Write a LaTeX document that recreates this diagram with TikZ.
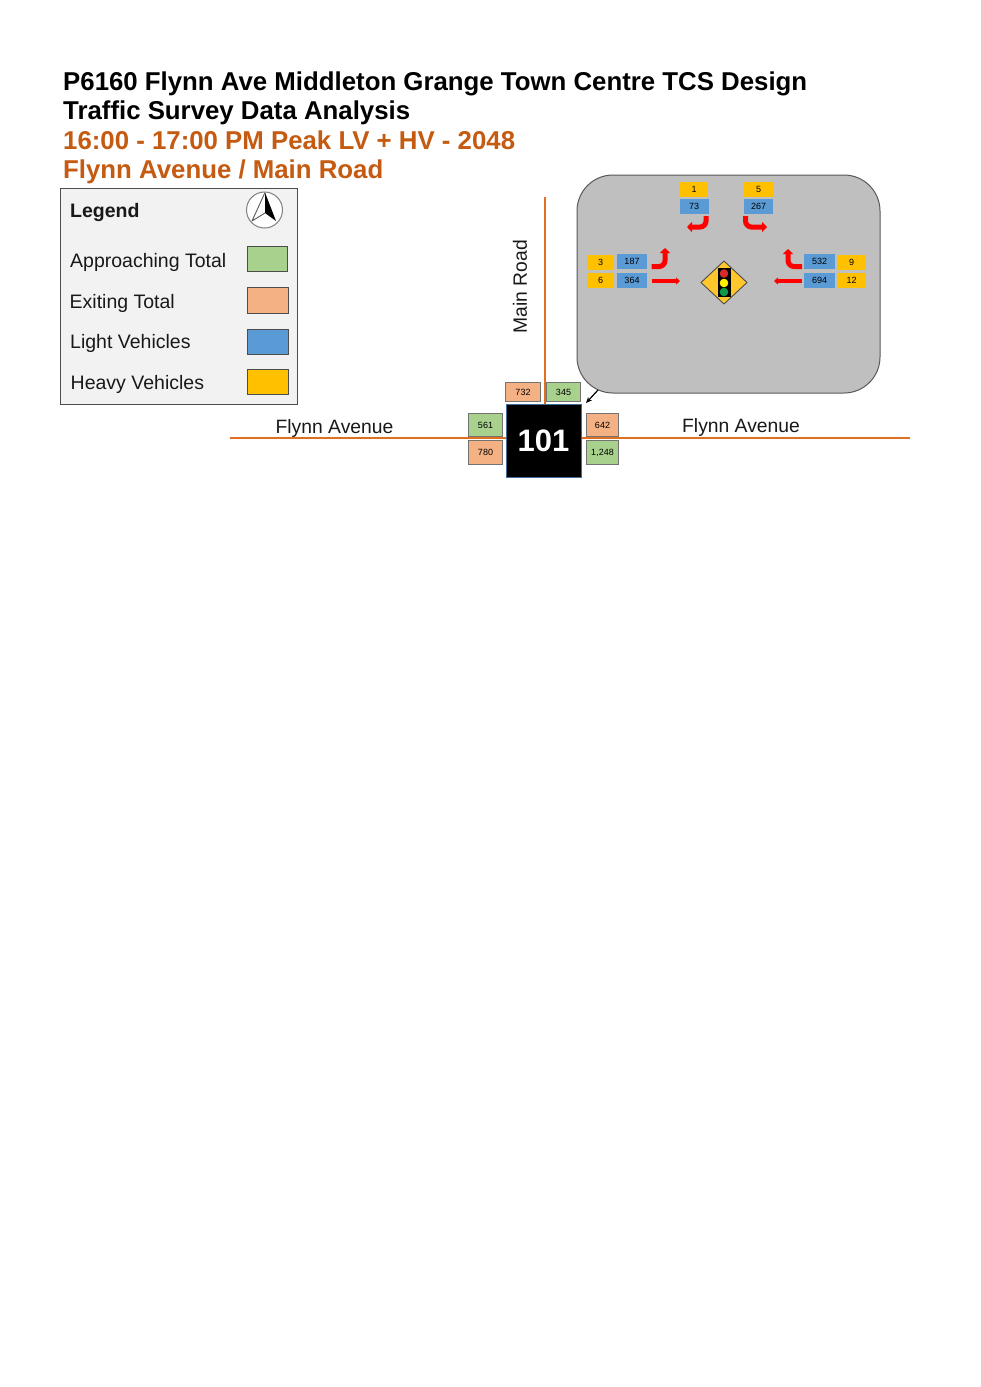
\documentclass[tikz,border=0pt]{standalone}
\usepackage{fontspec}
\setmainfont{Liberation Sans}
\usetikzlibrary{arrows.meta}

\definecolor{apprgreen}{HTML}{A9D18E}
\definecolor{exitorange}{HTML}{F4B183}
\definecolor{lightblue}{HTML}{5B9BD5}
\definecolor{heavyyellow}{HTML}{FFC000}
\definecolor{roadorange}{HTML}{E0701F}
\definecolor{titleorange}{HTML}{C55A11}
\definecolor{signyellow}{HTML}{FFC72C}
\definecolor{lampred}{HTML}{D42A2A}
\definecolor{lampyellow}{HTML}{FFF000}
\definecolor{lampgreen}{HTML}{0E9A48}

\tikzset{
  titletext/.style={anchor=base west,inner sep=0pt,font=\fontsize{25.8}{30}\selectfont\bfseries},
  legendtext/.style={anchor=base west,inner sep=0pt,text=black!90,font=\fontsize{19.5}{22}\selectfont},
  roadtext/.style={inner sep=0pt,text=black!90,font=\fontsize{19.3}{22}\selectfont},
  swatch/.style={draw=black!70,line width=1pt,minimum width=40.5pt,minimum height=25.5pt,inner sep=0pt},
  totalbox/.style={draw=black!55,line width=1pt,inner sep=0pt,minimum height=23.5pt,font=\fontsize{9}{10}\selectfont},
  countbox/.style={inner sep=0pt,minimum height=15pt,font=\fontsize{9}{10}\selectfont},
  road/.style={draw=roadorange,line width=1.5pt},
  move/.style={draw=red,line width=5pt,rounded corners=6pt,-{Triangle[length=5pt,width=10pt]}},
  straightmove/.style={move,rounded corners=0pt,line width=3.5pt,-{Triangle[length=4pt,width=7pt]}},
}

\begin{document}
\begin{tikzpicture}[x=1pt,y=-1pt]
  \useasboundingbox[fill=white] (0,0) rectangle (981,1387);

  % headings
  \node[titletext] (t1) at (63,90) {P6160 Flynn Ave Middleton Grange Town Centre TCS Design};
  \node[titletext] (t2) at (63,119) {Traffic Survey Data Analysis};
  \node[titletext,text=titleorange] (t3) at (63,149) {16:00 - 17:00 PM Peak LV + HV - 2048};
  \node[titletext,text=titleorange] (t4) at (63,178) {Flynn Avenue / Main Road};

  % legend
  \node[draw=black!70,fill=black!5,line width=1pt,minimum width=237pt,minimum height=216pt,inner sep=0pt] (legend) at (178.5,296) {};
  \node[legendtext,font=\fontsize{19.5}{22}\selectfont\bfseries] (lhead) at (70,217) {Legend};
  \node[legendtext] (l1) at (70,267) {Approaching Total};
  \node[legendtext] (l2) at (69.5,308.5) {Exiting Total};
  \node[legendtext] (l3) at (70,348) {Light Vehicles};
  \node[legendtext] (l4) at (70.5,389.5) {Heavy Vehicles};
  \node[swatch,fill=apprgreen] (s1) at (267.5,259) {};
  \node[swatch,fill=exitorange] (s2) at (268,300.5) {};
  \node[swatch,fill=lightblue] (s3) at (268,342) {};
  \node[swatch,fill=heavyyellow] (s4) at (268,382) {};

  % north point
  \node[circle,draw=black!50,fill=white,line width=1pt,minimum size=36pt,inner sep=0pt] (north) at (264.5,210) {};
  \draw[black!65,line width=.9pt,line join=round] (265,192.5) -- (252,221) -- (265,213);
  \fill[black] (265,192.5) -- (276,221) -- (265,213) -- cycle;

  % roads
  \coordinate (rw) at (230,438);
  \coordinate (re) at (910,438);
  \coordinate (rn) at (545,197);
  \coordinate (rs) at (545,404);
  \draw[road] (rw) -- (re);
  \draw[road] (rn) -- (rs);
  \node[roadtext] (fw) at (334.5,429) {Flynn Avenue};
  \node[roadtext] (fe) at (741,428) {Flynn Avenue};
  \node[roadtext,rotate=90] (mr) at (520,286.5) {Main Road};

  % site number and totals
  \node[fill=black,draw=lightblue!70!black,line width=1pt,text=white,minimum width=75pt,minimum height=73pt,inner sep=0pt,font=\fontsize{31}{36}\selectfont\bfseries] (site) at (543.5,440.5) {101};
  \node[totalbox,fill=exitorange,minimum width=35.5pt,minimum height=19.5pt] (tn1) at (523,392) {732};
  \node[totalbox,fill=apprgreen,minimum width=34.5pt,minimum height=19.5pt] (tn2) at (563.5,392) {345};
  \node[totalbox,fill=apprgreen,minimum width=34.5pt] (tw1) at (485.5,425) {561};
  \node[totalbox,fill=exitorange,minimum width=34.5pt] (tw2) at (485.5,452.5) {780};
  \node[totalbox,fill=exitorange,minimum width=32.5pt] (te1) at (602.5,425) {642};
  \node[totalbox,fill=apprgreen,minimum width=32.5pt] (te2) at (602.5,452.5) {1,248};

  % detail panel
  \node[draw=black!65,fill=black!25,line width=1pt,rounded corners=36pt,minimum width=303pt,minimum height=218pt,inner sep=0pt] (panel) at (728.5,284) {};
  \coordinate (pa) at (598,390);
  \coordinate (pb) at (586,403);
  \draw[-{Stealth[length=6pt,width=5pt]},line width=1.2pt] (pa) -- (pb);

  % counts: name / x / y / width / text
  \foreach \n/\x/\y/\w/\t in {h1/694/189.5/28/1,h5/758.5/189.5/29/5,h3/600.5/262/27/3,h6/600.5/280/27/6,h9/851.5/262/29/9,h12/851.5/280/29/12}
  {
    \node[countbox,fill=heavyyellow,minimum width=\w pt] (\n) at (\x,\y) {\t};
  };
  \foreach \n/\x/\y/\w/\t in {c73/694/206.5/29/73,c267/758.5/206.5/29/267,c187/632/261.5/30/187,c364/632/280/30/364,c532/819.5/261.5/31/532,c694/819.5/280/31/694}
  {
    \node[countbox,fill=lightblue,minimum width=\w pt] (\n) at (\x,\y) {\t};
  };

  % movement arrows
  \coordinate (m73a) at (706,216);
  \coordinate (m73b) at (687,227);
  \coordinate (m267a) at (745.5,216);
  \coordinate (m267b) at (767,227);
  \coordinate (m187a) at (651.5,266.5);
  \coordinate (m187b) at (665,248);
  \coordinate (m532a) at (802,266.5);
  \coordinate (m532b) at (788,249);
  \coordinate (m364a) at (651.5,281);
  \coordinate (m364b) at (680,281);
  \coordinate (m694a) at (802,281);
  \coordinate (m694b) at (774,281);
  \draw[move] (m73a) |- (m73b);
  \draw[move] (m267a) |- (m267b);
  \draw[move] (m187a) -| (m187b);
  \draw[move] (m532a) -| (m532b);
  \draw[straightmove] (m364a) -- (m364b);
  \draw[straightmove] (m694a) -- (m694b);

  % signal sign
  \filldraw[fill=signyellow,draw=black!70,line width=.9pt,line join=round] (724,261) -- (747,282.5) -- (724,304) -- (701,282.5) -- cycle;
  \fill[black] (717.5,268) rectangle (731,297);
  \fill[lampred] (724,273.5) circle(4.3pt);
  \fill[lampyellow] (724,283) circle(4.3pt);
  \fill[lampgreen] (724,292) circle(4.3pt);
\end{tikzpicture}
\end{document}
